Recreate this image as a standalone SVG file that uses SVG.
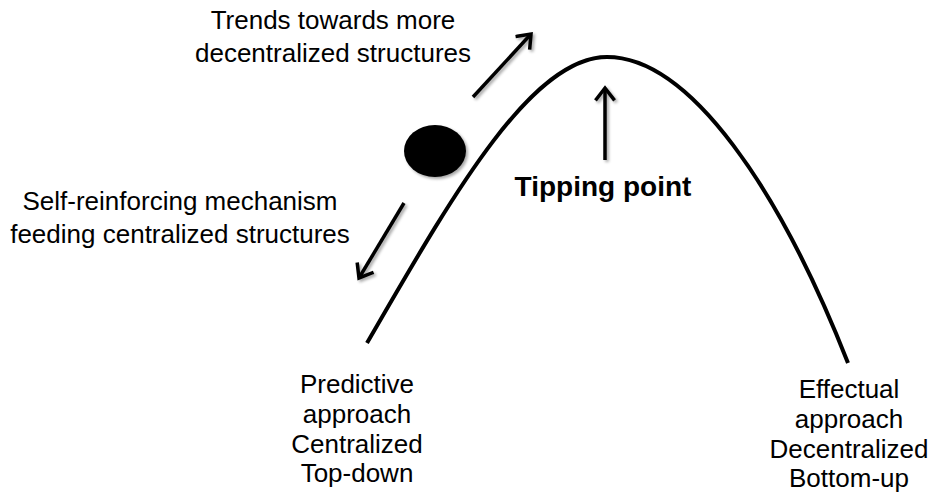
<svg xmlns="http://www.w3.org/2000/svg" width="933" height="495" viewBox="0 0 933 495">
  <style>
    .lbl { font-family: "Liberation Sans", Arial, sans-serif; font-size: 26px; fill: #000; text-anchor: middle; }
    .bold { font-weight: bold; font-size: 28px; }
    .arrow { stroke: #000; stroke-width: 3.5; fill: none; marker-end: url(#head); }
  </style>
  <defs>
    <marker id="head" markerUnits="userSpaceOnUse" markerWidth="30" markerHeight="30" viewBox="-15 -15 30 30" refX="0" refY="0" orient="auto">
      <path d="M-11,-8.5 L0,0 L-11,8.5" fill="none" stroke="#000" stroke-width="3.5" stroke-linecap="square" stroke-linejoin="miter"/>
    </marker>
    <filter id="shadow" x="-30%" y="-30%" width="160%" height="160%">
      <feGaussianBlur in="SourceAlpha" stdDeviation="1.5"/>
      <feOffset dx="1.5" dy="2" result="b"/>
      <feComponentTransfer><feFuncA type="linear" slope="0.35"/></feComponentTransfer>
      <feMerge><feMergeNode/><feMergeNode in="SourceGraphic"/></feMerge>
    </filter>
  </defs>

  <g id="hill">
    <path d="M367,343 C450,200 530,57 607,57 C690,57 780,190 848,363" fill="none" stroke="#000" stroke-width="4"/>
  </g>

  <g id="ball" filter="url(#shadow)">
    <ellipse cx="435" cy="151" rx="31" ry="26" fill="#000"/>
  </g>

  <g id="connectors" filter="url(#shadow)">
    <line class="arrow" x1="473" y1="97" x2="531" y2="34"/>
    <line class="arrow" x1="404" y1="203" x2="359" y2="278"/>
    <line class="arrow" x1="605" y1="160" x2="605" y2="88"/>
  </g>

  <g id="label-trends">
    <text class="lbl" x="333" y="29">Trends towards more</text>
    <text class="lbl" x="333" y="62">decentralized structures</text>
  </g>

  <g id="label-self">
    <text class="lbl" x="180" y="210">Self-reinforcing mechanism</text>
    <text class="lbl" x="180" y="243">feeding centralized structures</text>
  </g>

  <g id="label-tipping">
    <text class="lbl bold" x="603" y="196">Tipping point</text>
  </g>

  <g id="label-predictive">
    <text class="lbl" x="357" y="393">Predictive</text>
    <text class="lbl" x="357" y="423">approach</text>
    <text class="lbl" x="357" y="453">Centralized</text>
    <text class="lbl" x="357" y="482">Top-down</text>
  </g>

  <g id="label-effectual">
    <text class="lbl" x="849" y="398">Effectual</text>
    <text class="lbl" x="849" y="428">approach</text>
    <text class="lbl" x="849" y="458">Decentralized</text>
    <text class="lbl" x="849" y="487">Bottom-up</text>
  </g>
</svg>
